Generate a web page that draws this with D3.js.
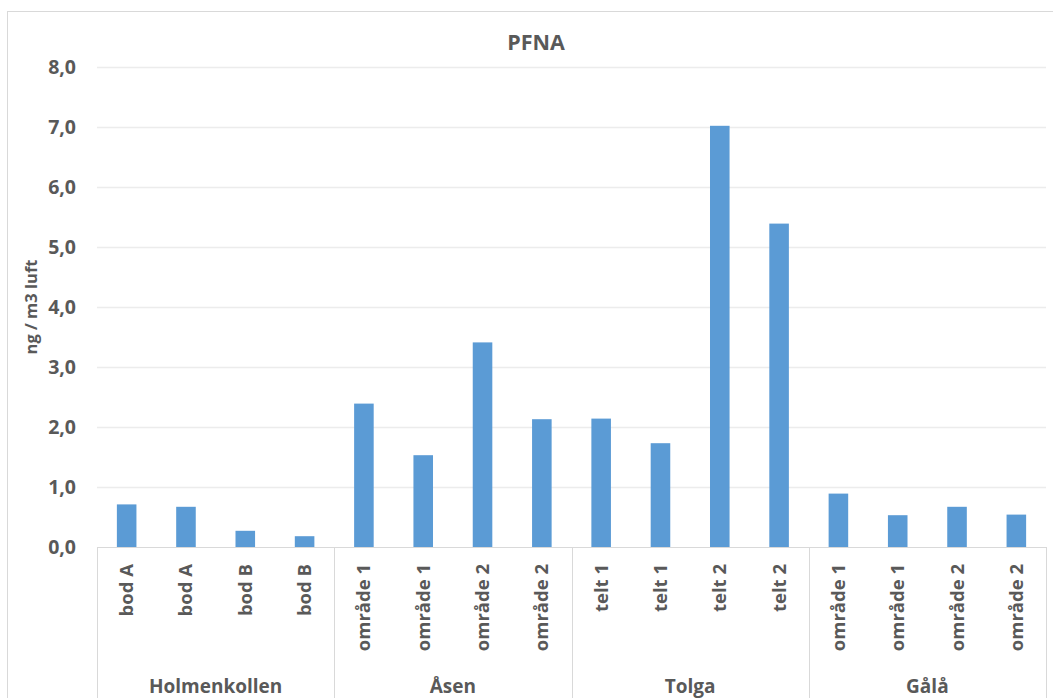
<!DOCTYPE html>
<html>
<head>
<meta charset="utf-8">
<script src="https://cdn.jsdelivr.net/npm/d3@7"></script>
<style>
  html, body { margin: 0; padding: 0; background: #fff; }
  svg { display: block; font-family: "Open Sans", "DejaVu Sans", sans-serif; }
</style>
</head>
<body>
<svg id="chart" width="1053" height="698"></svg>
<script>
// PFNA concentrations per sample, grouped by site
const groups = ["Holmenkollen", "Åsen", "Tolga", "Gålå"];
const groupSizes = [4, 4, 4, 4];
const labels = ["bod A", "bod A", "bod B", "bod B",
                "område 1", "område 1", "område 2", "område 2",
                "telt 1", "telt 1", "telt 2", "telt 2",
                "område 1", "område 1", "område 2", "område 2"];
const values = [0.71, 0.67, 0.27, 0.18,
                2.39, 1.53, 3.41, 2.13,
                2.14, 1.73, 7.02, 5.39,
                0.89, 0.53, 0.67, 0.54];
const yTicks = [0, 1, 2, 3, 4, 5, 6, 7, 8];
const title = "PFNA";
const yTitle = "ng / m3 luft";

const textColor = "#595959";
const barColor = "#5b9bd5";
const lineColor = "#d9d9d9";
const gridColor = "#ececec";

const svg = d3.select("#chart");
const plot = { left: 97, right: 1046, top: 67, bottom: 547 };

const nb = d3.formatLocale({ decimal: ",", thousands: " ", grouping: [3], currency: ["", " kr"] });
const fmt = nb.format(".1f");

const x = d3.scaleBand()
  .domain(d3.range(values.length))
  .range([plot.left, plot.right])
  .paddingInner(0.67)
  .paddingOuter(0.335);

const y = d3.scaleLinear().domain([0, 8]).range([plot.bottom, plot.top]);

// outer chart frame
svg.append("rect")
  .attr("x", 7.5).attr("y", 11.5)
  .attr("width", 1060).attr("height", 700)
  .attr("fill", "none").attr("stroke", lineColor);

// title
svg.append("text")
  .attr("x", 536).attr("y", 50)
  .attr("text-anchor", "middle")
  .attr("font-size", 21.5).attr("font-weight", 700)
  .attr("fill", textColor)
  .text(title);

// gridlines
svg.append("g")
  .selectAll("line")
  .data(yTicks.filter(d => d > 0))
  .join("line")
  .attr("x1", plot.left).attr("x2", plot.right)
  .attr("y1", d => Math.round(y(d)) + 0.5).attr("y2", d => Math.round(y(d)) + 0.5)
  .attr("stroke", gridColor).attr("stroke-width", 1.5);

// y axis labels
const yAxis = d3.axisLeft(y).tickValues(yTicks).tickFormat(fmt).tickSize(0).tickPadding(21);
svg.append("g")
  .attr("transform", `translate(${plot.left},0)`)
  .call(yAxis)
  .call(g => g.select(".domain").remove())
  .call(g => g.selectAll("text")
    .attr("font-size", 19.5).attr("font-weight", 700)
    .attr("font-family", "'Open Sans', sans-serif")
    .attr("fill", textColor));

// y axis title
svg.append("text")
  .attr("transform", `translate(37,${(plot.top + plot.bottom) / 2}) rotate(-90)`)
  .attr("text-anchor", "middle")
  .attr("font-size", 16.5).attr("font-weight", 700)
  .attr("fill", textColor)
  .text(yTitle);

// bars
svg.append("g")
  .selectAll("rect")
  .data(values)
  .join("rect")
  .attr("x", (d, i) => x(i))
  .attr("width", x.bandwidth())
  .attr("y", d => y(d))
  .attr("height", d => y(0) - y(d))
  .attr("fill", barColor);

// category axis baseline
svg.append("line")
  .attr("x1", plot.left).attr("x2", plot.right)
  .attr("y1", plot.bottom + 0.5).attr("y2", plot.bottom + 0.5)
  .attr("stroke", lineColor);

// group separators
const step = x.step();
const bounds = [0];
groupSizes.forEach(s => bounds.push(bounds[bounds.length - 1] + s));
svg.append("g")
  .selectAll("line")
  .data(bounds)
  .join("line")
  .attr("x1", d => Math.round(plot.left + d * step) + 0.5)
  .attr("x2", d => Math.round(plot.left + d * step) + 0.5)
  .attr("y1", plot.bottom).attr("y2", 698)
  .attr("stroke", lineColor);

// sample labels
svg.append("g")
  .selectAll("text")
  .data(labels)
  .join("text")
  .attr("transform", (d, i) => `translate(${x(i) + x.bandwidth() / 2 + 6.5},564) rotate(-90)`)
  .attr("text-anchor", "end")
  .attr("font-size", 18.5).attr("font-weight", 700)
  .attr("fill", textColor)
  .text(d => d);

// site labels
svg.append("g")
  .selectAll("text")
  .data(groups)
  .join("text")
  .attr("x", (d, i) => plot.left + (bounds[i] + bounds[i + 1]) / 2 * step)
  .attr("y", 693)
  .attr("text-anchor", "middle")
  .attr("font-size", 19).attr("font-weight", 700)
  .attr("fill", textColor)
  .text(d => d);
</script>
</body>
</html>
